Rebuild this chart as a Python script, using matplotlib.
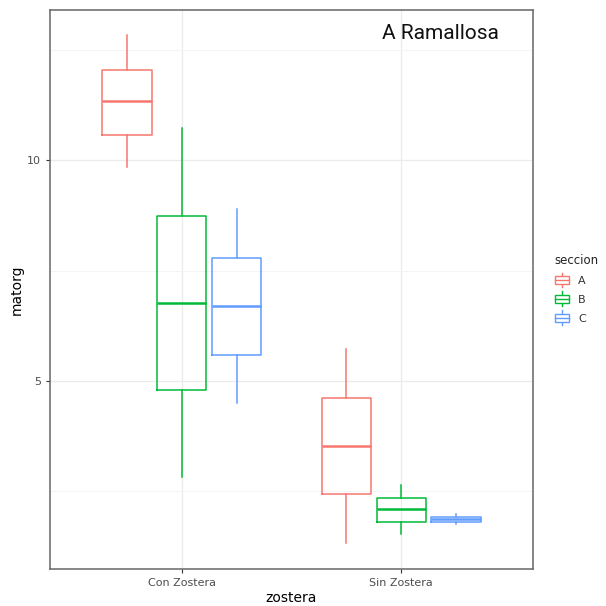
import matplotlib
matplotlib.use("Agg")
import matplotlib.pyplot as plt
from matplotlib.legend_handler import HandlerBase
from matplotlib.patches import Rectangle
from matplotlib.lines import Line2D

# ---- data ----
zostera = ["Con Zostera", "Sin Zostera"]
seccion = ["A", "B", "C"]
colors = ["#F8766D", "#00BA38", "#619CFF"]

# per seccion: [Con Zostera, Sin Zostera]
whislo = {"A": [9.84, 1.31], "B": [2.82, 1.52], "C": [4.49, 1.76]}
q1 = {"A": [10.57, 2.42], "B": [4.79, 1.79], "C": [5.58, 1.79]}
med = {"A": [11.35, 3.52], "B": [6.77, 2.08], "C": [6.69, 1.87]}
q3 = {"A": [12.06, 4.62], "B": [8.73, 2.35], "C": [7.78, 1.92]}
whishi = {"A": [12.84, 5.72], "B": [10.73, 2.63], "C": [8.89, 1.97]}

fig = plt.figure(figsize=(6.06, 6.06), dpi=100)
ax = fig.add_axes([50 / 606, 1 - 569 / 606, 483 / 606, 559 / 606])

dodge = 0.25
for j, s in enumerate(seccion):
    stats = []
    for i in range(len(zostera)):
        stats.append(dict(whislo=whislo[s][i], q1=q1[s][i], med=med[s][i],
                          q3=q3[s][i], whishi=whishi[s][i], fliers=[]))
    pos = [i + 1 + (j - 1) * dodge for i in range(len(zostera))]
    c = colors[j]
    ax.bxp(stats, positions=pos, widths=0.225, showcaps=False,
           boxprops=dict(color=c, linewidth=1.1),
           whiskerprops=dict(color=c, linewidth=1.1),
           medianprops=dict(color=c, linewidth=1.8),
           manage_ticks=False, zorder=3)

ax.set_xlim(0.4, 2.6)
ax.set_ylim(0.73, 13.41)
ax.set_xticks([1, 2])
ax.set_xticklabels(zostera)
ax.set_yticks([5, 10])
ax.set_yticks([2.5, 7.5, 12.5], minor=True)
ax.grid(True, which="major", color="#EBEBEB", linewidth=0.9, zorder=0)
ax.grid(True, which="minor", axis="y", color="#F3F3F3", linewidth=0.6, zorder=0)
ax.tick_params(axis="both", which="major", colors="#333333", labelcolor="#4D4D4D",
               labelsize=8, length=3, width=0.8)
ax.tick_params(axis="y", which="minor", length=0)
for sp in ax.spines.values():
    sp.set_color("#666666")
    sp.set_linewidth(1.1)
ax.set_axisbelow(True)

ax.set_xlabel("zostera", fontsize=10, color="black", labelpad=2)
ax.set_ylabel("matorg", fontsize=10, color="black", labelpad=2)

ax.text(0.93, 0.975, "A Ramallosa", transform=ax.transAxes, ha="right", va="top",
        fontsize=15, family="Roboto", color="#111111")


# small boxplot glyph for the legend keys
class BoxHandler(HandlerBase):
    def create_artists(self, legend, orig_handle, xdescent, ydescent, width,
                       height, fontsize, trans):
        c = orig_handle.get_color()
        cx = width / 2 - xdescent
        box = Rectangle((-xdescent, -ydescent + height * 0.15), width, height * 0.7,
                        facecolor="white", edgecolor=c, linewidth=1.0, transform=trans)
        mid = Line2D([-xdescent, width - xdescent], [-ydescent + height / 2] * 2,
                     color=c, linewidth=1.0, transform=trans)
        wh = Line2D([cx, cx], [-ydescent - height * 0.2, -ydescent + height * 1.2],
                    color=c, linewidth=1.0, transform=trans)
        return [wh, box, mid]


handles = [Line2D([], [], color=c) for c in colors]
leg = fig.legend(handles, seccion, title="seccion", loc="upper left",
                 bbox_to_anchor=(546 / 606, 1 - 245 / 606), frameon=False,
                 handler_map={Line2D: BoxHandler()}, handlelength=1.3,
                 handleheight=1.1, handletextpad=0.8, labelspacing=0.7,
                 fontsize=8, title_fontsize=8.5, alignment="left",
                 borderpad=0.3)
for t in leg.get_texts():
    t.set_color("#333333")
leg.get_title().set_color("#222222")

fig.savefig("out.png", dpi=100)
